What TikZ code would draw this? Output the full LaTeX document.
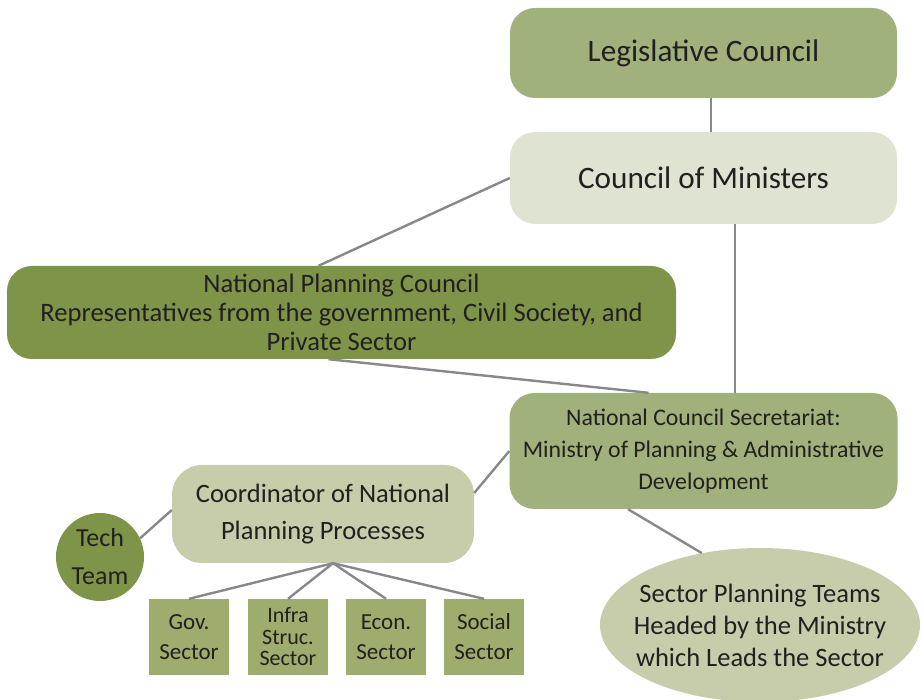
\documentclass[tikz,border=0pt]{standalone}
\usepackage{fontspec}
\setmainfont{Carlito}
\usetikzlibrary{shapes.geometric}
\definecolor{midgreen}{RGB}{160,177,124}
\definecolor{darkgreen}{RGB}{126,148,72}
\definecolor{palegreen}{RGB}{223,227,209}
\definecolor{sagegreen}{RGB}{199,205,170}
\definecolor{sqgreen}{RGB}{158,172,110}
\definecolor{linegray}{RGB}{136,136,140}
\definecolor{txt}{RGB}{35,31,32}
\tikzset{
  box/.style={rectangle, rounded corners=25pt, draw=none, text=txt, align=center, inner sep=0pt},
  sqbox/.style={rectangle, fill=sqgreen, draw=none, text=txt, align=center, inner sep=0pt,
     minimum width=80pt, minimum height=76pt, font=\fontsize{23}{30}\selectfont},
  conn/.style={draw=linegray, line width=2.4pt},
}
\begin{document}
\begin{tikzpicture}[x=1pt,y=-1pt]
\path[use as bounding box] (0,0) rectangle (922,700);

\node[box, fill=midgreen, minimum width=387pt, minimum height=90pt,
  font=\fontsize{31.2}{38}\selectfont] (leg) at (703.5,53) {Legislative Council};
\node[box, fill=palegreen, minimum width=387pt, minimum height=92pt,
  font=\fontsize{31.2}{38}\selectfont] (com) at (703.5,178) {Council of Ministers};
\node[box, fill=darkgreen, minimum width=669pt, minimum height=93pt,
  font=\fontsize{26.6}{29}\selectfont] (npc) at (341.5,312.5)
  {National Planning Council\\Representatives from the government, Civil Society, and\\Private Sector};
\node[box, fill=midgreen, minimum width=388pt, minimum height=116pt,
  font=\fontsize{23.8}{32}\selectfont] (sec) at (703.5,451)
  {National Council Secretariat:\\Ministry of Planning \& Administrative\\Development};
\node[box, rounded corners=30pt, fill=sagegreen, minimum width=302pt, minimum height=98pt,
  font=\fontsize{26.5}{37}\selectfont] (coord) at (323,514)
  {Coordinator of National\\Planning Processes};
\node[circle, fill=darkgreen, text=txt, align=center, inner sep=0pt, minimum size=88pt,
  font=\fontsize{26}{38}\selectfont] (tech) at (100,557) {Tech\\Team};

\node[sqbox] (gov) at (189,637) {Gov.\\Sector};
\node[sqbox, font=\fontsize{22}{21.5}\selectfont] (infra) at (288,637) {Infra\\Struc.\\Sector};
\node[sqbox] (econ) at (386,637) {Econ.\\Sector};
\node[sqbox] (social) at (484,637) {Social\\Sector};

\node[ellipse, fill=sagegreen, draw=none, inner sep=0pt,
  minimum width=320pt, minimum height=154pt] (ell) at (760,625) {};
\node[text=txt, align=center, inner sep=0pt,
  font=\fontsize{26.5}{32}\selectfont] (elltext) at (ell.center)
  {Sector Planning Teams\\Headed by the Ministry\\which Leads the Sector};

\draw[conn] ([xshift=7.5pt]leg.south) -- ([xshift=7.5pt]com.north);
\draw[conn] (com.west) -- ([xshift=-23pt]npc.north);
\draw[conn] ([xshift=31.5pt]com.south) -- ([xshift=31.5pt]sec.north);
\draw[conn] ([xshift=-13pt]npc.south) -- ([xshift=-55pt]sec.north);
\draw[conn] (sec.west) -- ([yshift=21pt]coord.east);
\draw[conn] ([xshift=-75.5pt]sec.south) -- (ell.129);
\draw[conn] (tech.25) -- ([yshift=4pt]coord.west);
\coordinate (hub) at ([xshift=10pt]coord.south);
\draw[conn] (hub) -- (gov.north);
\draw[conn] (hub) -- (infra.north);
\draw[conn] (hub) -- (econ.north);
\draw[conn] (hub) -- (social.north);
\end{tikzpicture}
\end{document}
